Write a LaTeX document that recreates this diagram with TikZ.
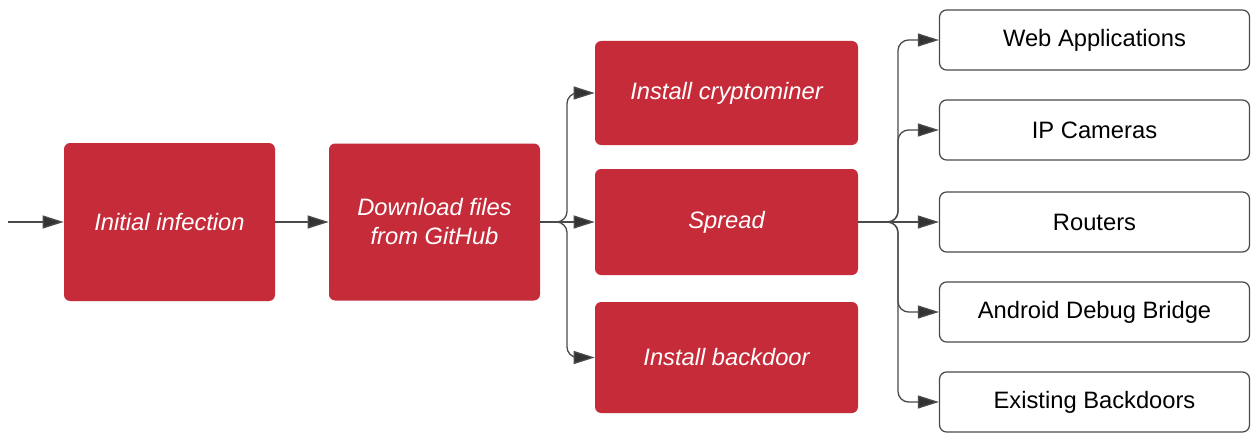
\documentclass[tikz,border=0pt]{standalone}
\usepackage{fontspec}
\setmainfont{Liberation Sans}
\usetikzlibrary{arrows.meta}
\definecolor{lucidred}{HTML}{C62B39}
\definecolor{linegray}{HTML}{4A4A4A}
\tikzset{
  redbox/.style={fill=lucidred, rounded corners=3.5pt, text=white, align=center,
    font=\fontsize{13.5}{16.5}\selectfont\itshape},
  whitebox/.style={draw=linegray, line width=0.7pt, fill=white, rounded corners=4pt,
    minimum width=6.2cm, minimum height=1.2cm, font=\fontsize{13.5}{16.5}\selectfont},
  flow/.style={draw=linegray, line width=0.75pt, rounded corners=6pt,
    -{Triangle[length=0.42cm,width=0.26cm,fill=black!80]}}
}
\begin{document}
\begin{tikzpicture}
  \useasboundingbox (0,0) rectangle (25.04,8.68);
  % main chain
  \coordinate (start) at (0.16,4.24);
  \node[redbox, minimum width=4.22cm, minimum height=3.16cm] (init) at (3.39,4.24) {Initial infection};
  \node[redbox, minimum width=4.22cm, minimum height=3.14cm] (download) at (8.69,4.24) {Download files\\from GitHub};
  \node[redbox, minimum width=5.26cm, minimum height=2.08cm] (miner) at (14.53,6.82) {Install cryptominer};
  \node[redbox, minimum width=5.26cm, minimum height=2.12cm] (spread) at (14.53,4.24) {Spread};
  \node[redbox, minimum width=5.26cm, minimum height=2.22cm] (backdoor) at (14.53,1.53) {Install backdoor};
  % targets
  \node[whitebox] (webapps) at (21.89,7.88) {Web Applications};
  \node[whitebox] (cameras) at (21.89,6.08) {IP Cameras};
  \node[whitebox] (routers) at (21.89,4.24) {Routers};
  \node[whitebox] (adb) at (21.89,2.44) {Android Debug Bridge};
  \node[whitebox] (oldbd) at (21.89,0.64) {Existing Backdoors};
  \coordinate (fork1) at (11.34,4.24);
  \coordinate (fork2) at (17.96,4.24);
  \draw[flow] (start) -- (init);
  \draw[flow] (init) -- (download);
  \draw[flow] (download) -- (spread);
  \draw[flow] (download.east) -| (fork1 |- miner.west) -- (miner.west);
  \draw[flow] (download.east) -| (fork1 |- backdoor.west) -- (backdoor.west);
  \draw[flow] (spread) -- (routers);
  \foreach \t in {webapps,cameras,adb,oldbd}
    \draw[flow] (spread.east) -| (fork2 |- \t.west) -- (\t.west);
\end{tikzpicture}
\end{document}
